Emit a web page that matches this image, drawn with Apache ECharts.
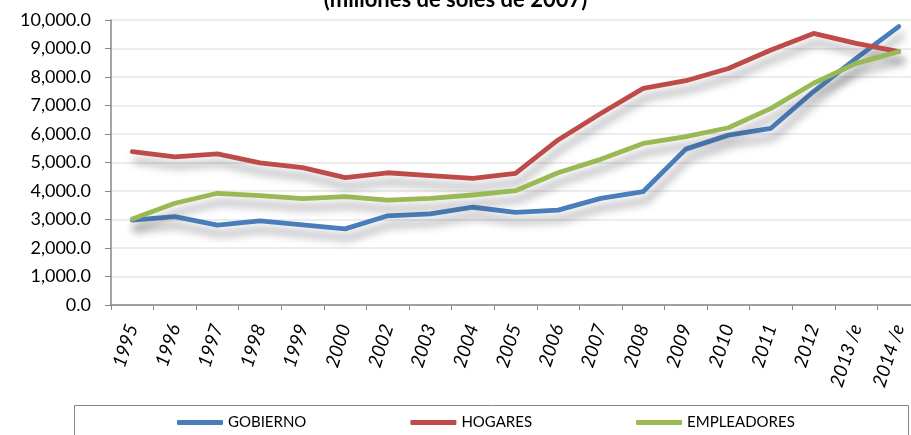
<!DOCTYPE html>
<html>
<head>
<meta charset="utf-8">
<script src="https://cdn.jsdelivr.net/npm/echarts@6/dist/echarts.min.js"></script>
<style>
  html, body { margin: 0; padding: 0; background: #fff; }
  #chart { width: 911px; height: 435px; }
</style>
</head>
<body>
<div id="chart"></div>
<script>
// datos
const years = ['1995', '1996', '1997', '1998', '1999', '2000', '2002', '2003', '2004', '2005',
  '2006', '2007', '2008', '2009', '2010', '2011', '2012', '2013 /e', '2014 /e']
const gobierno = [2980, 3100, 2800, 2950, 2810, 2670, 3130, 3200, 3430, 3250,
  3330, 3740, 3980, 5470, 5960, 6200, 7490, 8650, 9770]
const hogares = [5380, 5200, 5300, 4990, 4820, 4470, 4640, 4540, 4440, 4620,
  5790, 6720, 7600, 7870, 8300, 8950, 9530, 9180, 8890]
const empleadores = [3020, 3570, 3920, 3840, 3730, 3800, 3680, 3740, 3860, 4010,
  4640, 5110, 5670, 5910, 6220, 6900, 7780, 8480, 8890]
const names = ['GOBIERNO', 'HOGARES', 'EMPLEADORES']
const colors = ['#4a7ebb', '#be4b48', '#98b954']

const font = 'Lato, "Liberation Sans", sans-serif'

const chart = echarts.init(document.getElementById('chart'))

const makeSeries = (name, data, color) => ({
  name: name,
  type: 'line',
  data: data,
  symbol: 'none',
  lineStyle: {
    width: 4.8,
    color: color,
    cap: 'round',
    join: 'round',
    shadowColor: 'rgba(60,60,70,0.45)',
    shadowBlur: 8,
    shadowOffsetX: 3,
    shadowOffsetY: 9
  },
  itemStyle: { color: color },
  emphasis: { disabled: true }
})

const option = {
  animation: false,
  color: colors,
  title: {
    text: '(millones de soles de 2007)',
    left: 'center',
    top: -16,
    textStyle: { fontFamily: font, fontSize: 22, fontWeight: 'bold', color: '#000' }
  },
  grid: {
    left: 111,
    right: -9,
    top: 20,
    bottom: 130,
    outerBoundsMode: 'none'
  },
  legend: {
    left: 172,
    top: 410,
    itemWidth: 46,
    itemHeight: 5,
    itemGap: 104,
    icon: 'roundRect',
    data: names,
    textStyle: { fontFamily: font, fontSize: 15, color: '#000' }
  },
  graphic: [{
    type: 'rect',
    left: 72,
    top: 403,
    shape: { width: 834, height: 40 },
    style: { fill: 'none', stroke: '#868686', lineWidth: 1 }
  }],
  xAxis: {
    type: 'category',
    data: years,
    boundaryGap: true,
    axisLine: { lineStyle: { color: '#868686', width: 1.5 } },
    axisTick: { show: true, length: 5, lineStyle: { color: '#868686' } },
    axisLabel: {
      rotate: 72,
      margin: 20,
      interval: 0,
      fontFamily: font,
      fontSize: 19,
      fontStyle: 'italic',
      color: '#000'
    },
    splitLine: { show: false }
  },
  yAxis: {
    type: 'value',
    min: 0,
    max: 10000,
    interval: 1000,
    axisLine: { show: true, lineStyle: { color: '#868686', width: 1.5 } },
    axisTick: { show: true, length: 6, lineStyle: { color: '#868686' } },
    axisLabel: {
      margin: 20,
      fontFamily: font,
      fontSize: 18,
      color: '#000',
      formatter: v => v.toLocaleString('en-US', { minimumFractionDigits: 1, maximumFractionDigits: 1 })
    },
    splitLine: { lineStyle: { color: '#e6e6e6', width: 1.5 } }
  },
  series: [
    makeSeries(names[0], gobierno, colors[0]),
    makeSeries(names[1], hogares, colors[1]),
    makeSeries(names[2], empleadores, colors[2])
  ]
}

chart.setOption(option)
</script>
</body>
</html>
